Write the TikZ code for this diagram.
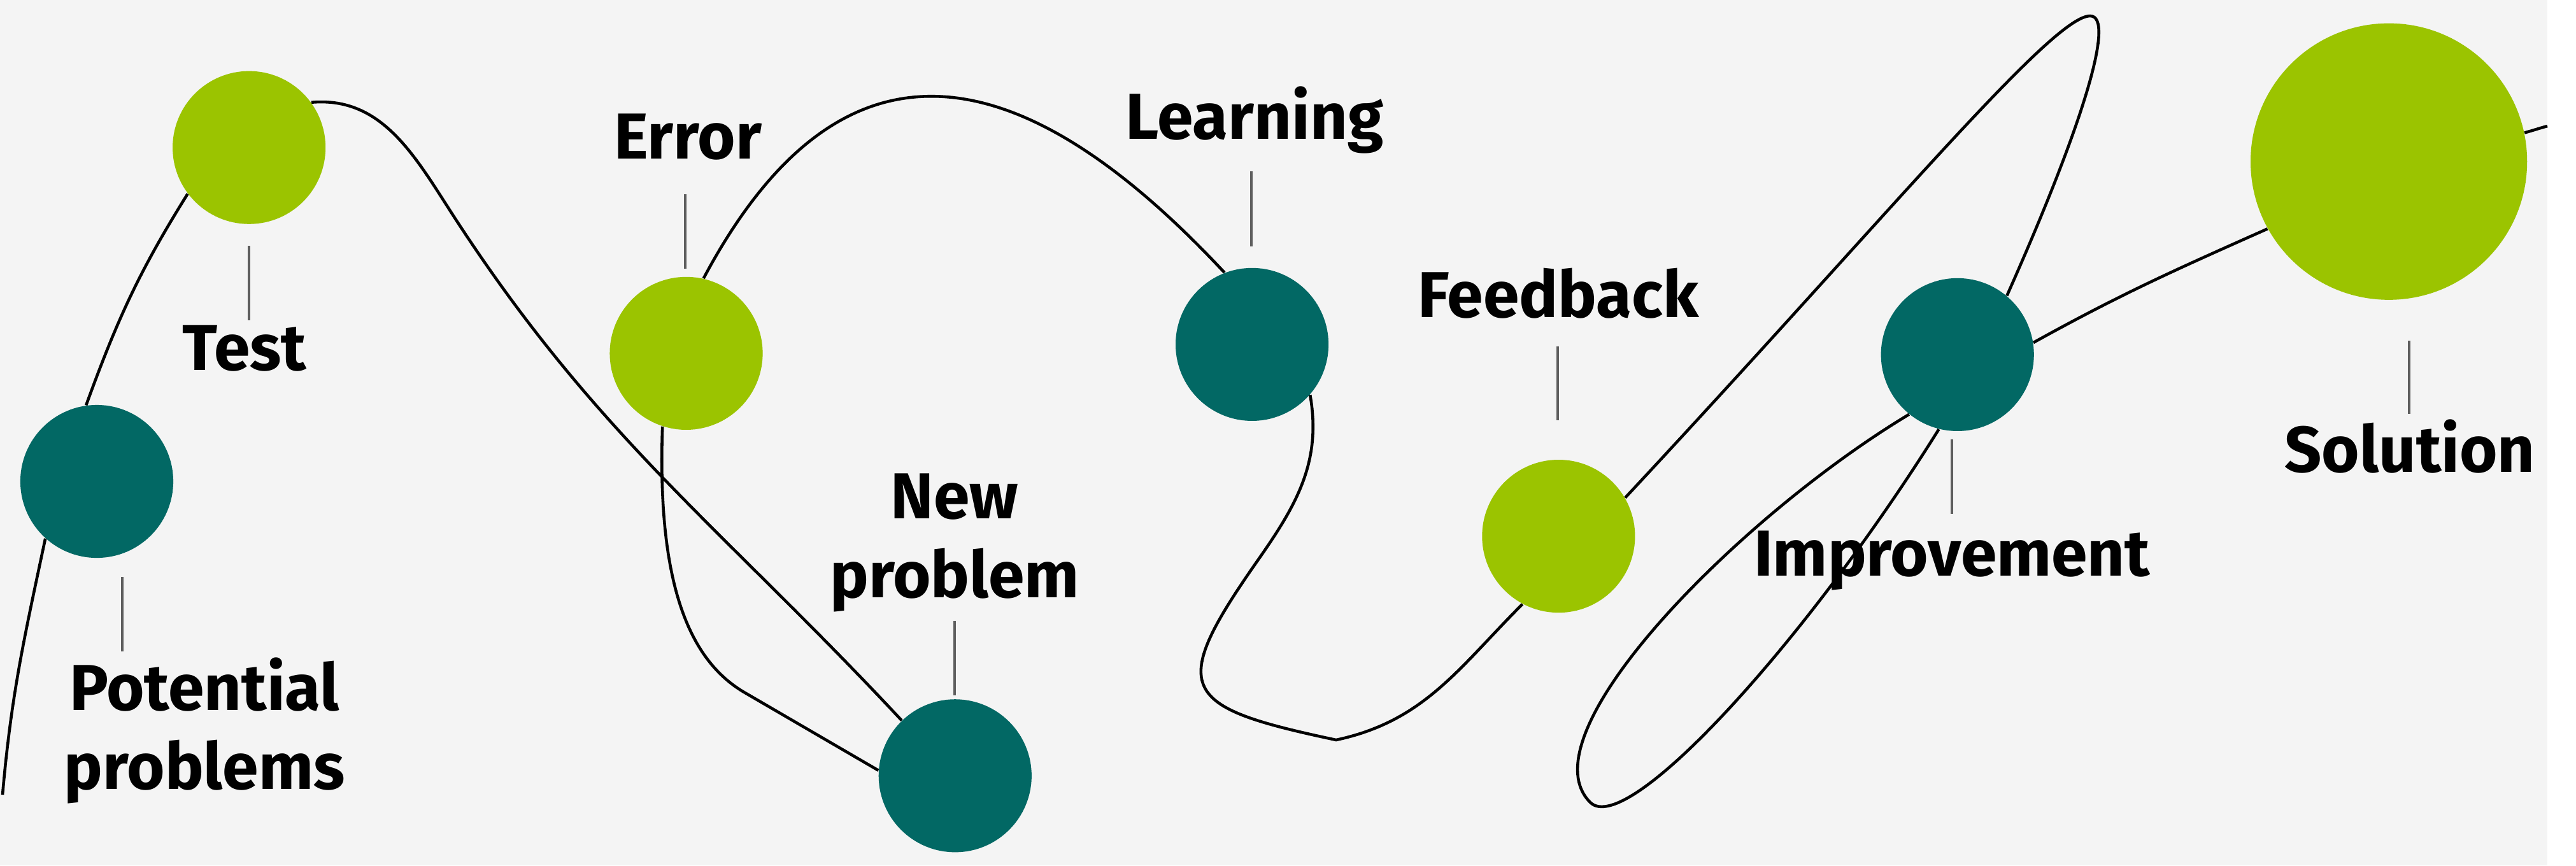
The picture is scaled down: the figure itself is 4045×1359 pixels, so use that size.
\documentclass[tikz,border=0pt]{standalone}
\usepackage{fontspec}
\newfontfamily\lblfont{Fira Sans}
\usetikzlibrary{positioning,backgrounds}
\definecolor{leaf}{HTML}{9BC400}
\definecolor{petrol}{HTML}{026864}
\definecolor{paper}{HTML}{F4F4F4}
\definecolor{stem}{HTML}{5E5E5E}

\begin{document}
\begin{tikzpicture}[x=0.01cm,y=0.01cm,on grid]
      \tikzset{dot/.style={circle,inner sep=0pt,minimum size=2.4cm},
               leafdot/.style={dot,fill=leaf},
               petroldot/.style={dot,fill=petrol},
               lbl/.style={anchor=base,align=center,inner sep=0pt,font=\lblfont\bfseries\fontsize{29}{35}\selectfont},
               wiggle/.style={line width=1.3pt},
               stemline/.style={draw=stem,line width=0.9pt}}

      \useasboundingbox (0,0) rectangle (4045,-1359);

      \node[petroldot] (pp) at (152,-756) {};
      \node[leafdot] (test) [above right=5.24cm and 2.39cm of pp] {};
      \node[leafdot] (err) [below right=3.23cm and 6.86cm of test] {};
      \node[petroldot] (np) [below right=6.63cm and 4.22cm of err] {};
      \node[petroldot] (learn) [above right=6.77cm and 4.66cm of np] {};
      \node[leafdot] (fb) [below right=3.01cm and 4.81cm of learn] {};
      \node[petroldot] (impr) [above right=2.85cm and 6.26cm of fb] {};
      \node[leafdot,minimum size=4.34cm] (sol) [above right=3.03cm and 6.77cm of impr] {};

      % multi-line labels sit on the baseline of their last line
      \node[lbl] (ppl) at (321,-1239) {Potential\\problems};
      \node[lbl] (testl) at (384,-581) {Test};
      \node[lbl] (errl) at (1080,-249) {Error};
      \node[lbl] (npl) at (1499,-938) {New\\problem};
      \node[lbl] (learnl) at (1970,-218) {Learning};
      \node[lbl] (fbl) at (2447,-498) {Feedback};
      \node[lbl] (imprl) at (3065,-904) {Improvement};
      \node[lbl] (soll) at (3784,-741) {Solution};

      \begin{pgfonlayer}{background}
        \fill[paper] (0,0) rectangle (4000,-1359);
        \foreach \x/\a/\b in {192/906/1023, 391/386/503, 1076/305/422, 1499/975/1092,
                              1965/269/387, 2446/544/660, 3065/690/807, 3783/535/650}
          \draw[stemline] (\x,-\a) -- (\x,-\b);

        \coordinate (start) at (4,-1248);
        \coordinate (w1) at (714,-342);
        \coordinate (w2) at (1170,-1088);
        \coordinate (w3) at (1975,-880);
        \coordinate (w4) at (2098,-1162);
        \coordinate (w5) at (3282,-25);
        \coordinate (w6) at (2497,-1260);
        \coordinate (fin) at (4000,-198);

        \draw[wiggle]
        (start) to[out=85,in=258] (pp.228)
        (pp.98) to[out=70,in=238] (test.217)
        (test.36) to[out=5,in=123] (w1)
          to[out=-57,in=133] (np.134)
        (np.176) -- (w2)
          to[out=150,in=268,out distance=1cm,in distance=2.5cm] (err.252)
        (err.77) to[out=62,in=133,looseness=1.45] (learn.111)
        (learn.319) to[out=-80,in=55] (w3)
          to[out=235,in=168,out distance=2.5cm,in distance=2.5cm] (w4)
          to[out=12,in=225] (fb.242)
        (fb.30) to[out=47,in=180,out distance=6cm,in distance=0.6cm] (w5)
          to[out=0,in=66,out distance=0.4cm,in distance=3cm] (impr.50)
        (impr.256) to[out=238,in=-45,out distance=4cm,in distance=0.8cm] (w6)
          to[out=135,in=211,out distance=1.5cm,in distance=3.1cm] (impr.231)
        (impr.9) to[out=29,in=204] (sol.209)
        (sol.12) to[out=15,in=195] (fin);
      \end{pgfonlayer}
\end{tikzpicture}
\end{document}
